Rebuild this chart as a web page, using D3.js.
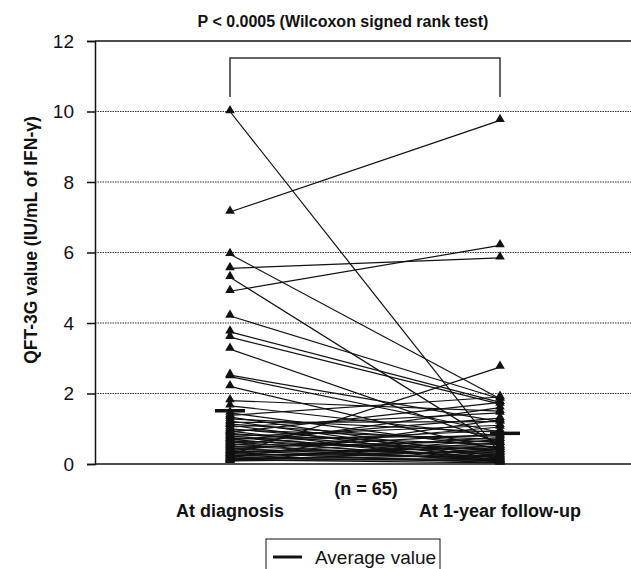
<!DOCTYPE html>
<html>
<head>
<meta charset="utf-8">
<script src="https://cdn.jsdelivr.net/npm/d3@7"></script>
<style>
    html, body { margin: 0; padding: 0; background: #fff; }
    svg { display: block; font-family: "Liberation Sans", Arial, sans-serif; }
</style>
</head>
<body>
<div id="chart"></div>
<script>
// --- Data ---
const timepoints = ["At diagnosis", "At 1-year follow-up"];
const yTicks = [0, 2, 4, 6, 8, 10, 12];
const gridValues = [2, 4, 6, 8, 10];

// QFT-3G value per patient (n = 65), same order in both arrays
const atDiagnosis = [
    10.0, 7.15, 5.95, 5.55, 5.3, 4.9, 4.2, 3.75, 3.6, 3.26, 2.52, 2.48, 2.2, 1.8, 1.65,
    1.45, 1.38, 1.33, 1.28, 1.22, 1.18, 1.13, 1.1, 1.05, 1.0,
    0.97, 0.93, 0.9, 0.87, 0.84, 0.8, 0.78, 0.75, 0.72, 0.7,
    0.68, 0.65, 0.62, 0.6, 0.57, 0.55, 0.52, 0.5, 0.48, 0.45,
    0.43, 0.4, 0.38, 0.36, 0.34, 0.32, 0.3, 0.28, 0.26, 0.24,
    0.22, 0.2, 0.18, 0.16, 0.15, 0.13, 0.12, 0.1, 0.09, 0.08
];
const atFollowUp = [
    0.3, 9.75, 1.85, 5.85, 0.5, 6.2, 1.85, 1.75, 1.7, 0.6, 1.2, 0.9, 0.4, 1.5, 0.8,
    0.45, 1.9, 0.2, 0.9, 0.15, 1.2, 0.6, 0.1, 1.45, 0.35,
    0.7, 0.05, 1.75, 0.3, 0.55, 0.12, 1.1, 0.25, 0.8, 0.08,
    1.3, 0.4, 0.18, 0.95, 0.06, 0.5, 1.6, 0.22, 0.65, 0.1,
    0.85, 0.3, 1.05, 0.15, 0.45, 0.04, 0.75, 0.2, 2.75, 0.35,
    0.5, 0.12, 1.25, 0.08, 0.6, 0.25, 0.03, 0.4, 0.15, 0.7
];
const averages = [1.51, 0.87];

const CONFIG = {
    width: 631,
    height: 569,
    margin: { top: 41, left: 95, bottom: 464, right: 635 },
    ink: '#111',
    font: 18
};

const svg = d3.select("#chart").append("svg")
    .attr("width", CONFIG.width)
    .attr("height", CONFIG.height);

const x = d3.scalePoint()
    .domain(timepoints)
    .range([CONFIG.margin.left, CONFIG.margin.right])
    .padding(0.5);

const y = d3.scaleLinear()
    .domain([0, 12])
    .range([CONFIG.margin.bottom, CONFIG.margin.top]);

// Dotted grid
svg.append("g")
    .selectAll("line")
    .data(gridValues)
    .enter().append("line")
    .attr("x1", CONFIG.margin.left).attr("x2", CONFIG.width)
    .attr("y1", d => y(d)).attr("y2", d => y(d))
    .attr("stroke", "#333")
    .attr("stroke-width", 1)
    .attr("stroke-dasharray", "1.5,1");

// Top frame line + baseline
[12, 0].forEach(v => {
    svg.append("line")
        .attr("x1", CONFIG.margin.left).attr("x2", CONFIG.width)
        .attr("y1", y(v)).attr("y2", y(v))
        .attr("stroke", CONFIG.ink)
        .attr("stroke-width", 1.5);
});

// Y axis
const yAxis = svg.append("g")
    .attr("transform", `translate(${CONFIG.margin.left},0)`)
    .call(d3.axisLeft(y).tickValues(yTicks).tickSize(8).tickPadding(13).tickFormat(d3.format("d")));
yAxis.select(".domain").attr("stroke", CONFIG.ink).attr("stroke-width", 1.5);
yAxis.selectAll(".tick line").attr("stroke", CONFIG.ink).attr("stroke-width", 1.5);
yAxis.selectAll("text")
    .attr("fill", CONFIG.ink)
    .style("font-size", "19px")
    .style("font-family", '"Liberation Sans", Arial, sans-serif');

// Paired lines
const pairs = atDiagnosis.map((d, i) => [d, atFollowUp[i]]);
svg.append("g")
    .selectAll("line")
    .data(pairs)
    .enter().append("line")
    .attr("x1", x(timepoints[0])).attr("x2", x(timepoints[1]))
    .attr("y1", d => y(d[0])).attr("y2", d => y(d[1]))
    .attr("stroke", CONFIG.ink)
    .attr("stroke-width", 1.2);

// Triangles
const tri = d3.symbol().type(d3.symbolTriangle).size(40);
timepoints.forEach((t, k) => {
    svg.append("g")
        .selectAll("path")
        .data(pairs)
        .enter().append("path")
        .attr("d", tri)
        .attr("transform", d => `translate(${x(t)},${y(d[k]) - 1})`)
        .attr("fill", CONFIG.ink);
});

// Average markers
svg.append("g")
    .selectAll("line")
    .data(averages)
    .enter().append("line")
    .attr("x1", (d, i) => x(timepoints[i]) - 15 + i * 5)
    .attr("x2", (d, i) => x(timepoints[i]) + 15 + i * 5)
    .attr("y1", d => y(d)).attr("y2", d => y(d))
    .attr("stroke", CONFIG.ink)
    .attr("stroke-width", 3.5);

// Significance bracket
const bTop = 58, bBottom = 97;
svg.append("path")
    .attr("d", `M${x(timepoints[0])},${bBottom}V${bTop}H${x(timepoints[1])}V${bBottom}`)
    .attr("fill", "none")
    .attr("stroke", "#333")
    .attr("stroke-width", 1.5);

// Texts
svg.append("text")
    .attr("x", 343).attr("y", 27)
    .attr("text-anchor", "middle")
    .attr("font-weight", "bold")
    .attr("font-size", 16)
    .attr("fill", CONFIG.ink)
    .text("P < 0.0005 (Wilcoxon signed rank test)");

svg.append("text")
    .attr("x", 366).attr("y", 495)
    .attr("text-anchor", "middle")
    .attr("font-weight", "bold")
    .attr("font-size", CONFIG.font)
    .attr("fill", CONFIG.ink)
    .text("(n = 65)");

svg.append("g")
    .selectAll("text")
    .data(timepoints)
    .enter().append("text")
    .attr("x", d => x(d)).attr("y", 517)
    .attr("text-anchor", "middle")
    .attr("font-weight", "bold")
    .attr("font-size", CONFIG.font)
    .attr("fill", CONFIG.ink)
    .text(d => d);

svg.append("text")
    .attr("transform", "translate(37,240) rotate(-90)")
    .attr("text-anchor", "middle")
    .attr("font-weight", "bold")
    .attr("font-size", 17.5)
    .attr("fill", CONFIG.ink)
    .text("QFT-3G value (IU/mL of IFN-γ)");

// Legend
const legend = svg.append("g").attr("transform", "translate(266,539)");
legend.append("rect")
    .attr("width", 174).attr("height", 40)
    .attr("fill", "#fff")
    .attr("stroke", CONFIG.ink)
    .attr("stroke-width", 1);
legend.append("line")
    .attr("x1", 7).attr("x2", 36)
    .attr("y1", 18).attr("y2", 18)
    .attr("stroke", CONFIG.ink)
    .attr("stroke-width", 3);
legend.append("text")
    .attr("x", 49).attr("y", 25)
    .attr("font-size", 19)
    .attr("fill", CONFIG.ink)
    .text("Average value");
</script>
</body>
</html>
